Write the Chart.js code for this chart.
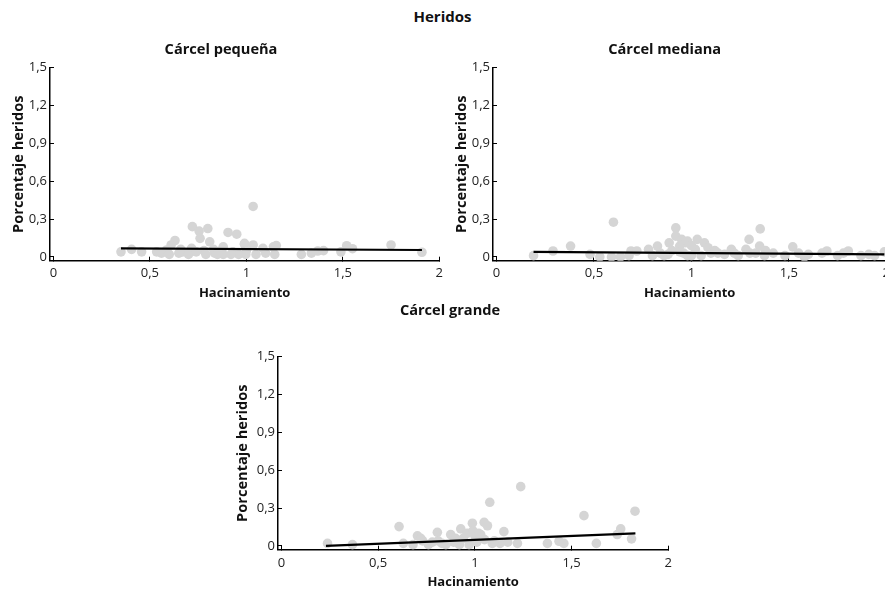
<!DOCTYPE html>
<html>
<head>
<meta charset="utf-8">
<script src="https://cdn.jsdelivr.net/npm/chart.js@4"></script>
<style>
  body { margin: 0; width: 885px; height: 591px; overflow: hidden; background: #fff; position: relative; font-family: "Open Sans", sans-serif; }
  canvas { position: absolute; }
  #mainTitle { position: absolute; left: 0; width: 885px; top: 6px; text-align: center; font-weight: bold; font-size: 15px; color: #111; }
</style>
</head>
<body>
<div id="mainTitle">Heridos</div>
<canvas id="pequena" width="452" height="275" style="left:0px; top:28px;"></canvas>
<canvas id="mediana" width="457" height="275" style="left:443px; top:28px;"></canvas>
<canvas id="grande" width="454" height="302" style="left:228px; top:290px;"></canvas>
<script>
// ticks
var xTicks = [0, 0.5, 1, 1.5, 2];
var yTicks = [0, 0.3, 0.6, 0.9, 1.2, 1.5];

// Cárcel pequeña
var pequenaX = [0.35,0.405,0.457,0.535,0.56,0.587,0.60,0.63,0.61,0.67,0.716,0.72,0.755,0.76,0.80,0.81,0.78,0.79,0.836,0.88,0.905,0.88,0.93,0.95,0.96,0.99,1.035,0.99,1.035,0.997,1.05,1.086,1.14,1.155,1.147,1.285,1.337,1.37,1.40,1.49,1.52,1.55,1.75,1.91,0.65,0.70,0.74,0.83,0.87,0.92,1.0,1.1,0.66,0.85];
var pequenaY = [0.04,0.06,0.04,0.04,0.03,0.055,0.02,0.13,0.095,0.04,0.068,0.24,0.205,0.147,0.225,0.12,0.05,0.02,0.03,0.08,0.194,0.02,0.04,0.18,0.02,0.107,0.40,0.10,0.095,0.02,0.02,0.068,0.08,0.09,0.02,0.02,0.03,0.047,0.05,0.04,0.089,0.065,0.095,0.037,0.03,0.02,0.04,0.06,0.05,0.02,0.05,0.03,0.06,0.02];
var pequenaLineX = [0.35, 1.91];
var pequenaLineY = [0.068, 0.055];

// Cárcel mediana
var medianaX = [0.19,0.29,0.38,0.48,0.53,0.59,0.60,0.636,0.68,0.69,0.72,0.78,0.80,0.826,0.84,0.86,0.886,0.92,0.92,0.94,0.95,0.97,0.96,0.98,0.98,1.03,1.067,1.085,1.02,1.0,1.05,1.136,1.17,1.205,1.24,1.28,1.296,1.353,1.35,1.33,1.375,1.42,1.48,1.52,1.55,1.58,1.67,1.695,1.75,1.805,1.78,1.87,1.91,1.94,1.99,0.90,0.88,1.1,1.12,1.3,1.0,0.94,1.22,1.38,1.6];
var medianaY = [0.01,0.047,0.086,0.02,0.0,0.0,0.275,0.0,0.01,0.047,0.047,0.06,0.01,0.086,0.03,0.01,0.112,0.23,0.165,0.086,0.139,0.112,0.03,0.01,0.125,0.139,0.112,0.073,0.06,0.01,0.01,0.03,0.02,0.06,0.01,0.06,0.139,0.222,0.086,0.03,0.01,0.03,0.01,0.08,0.03,0.0,0.03,0.047,0.01,0.047,0.03,0.01,0.02,0.01,0.04,0.05,0.02,0.03,0.05,0.03,0.09,0.04,0.03,0.05,0.02];
var medianaLineX = [0.19, 1.99];
var medianaLineY = [0.04, 0.02];

// Cárcel grande
var grandeX = [0.238,0.367,0.608,0.63,0.68,0.703,0.73,0.76,0.806,0.81,0.85,0.875,0.89,0.927,0.94,0.987,0.97,1.0,1.048,1.065,1.077,1.03,1.01,1.09,1.15,1.13,1.17,1.22,1.237,1.375,1.435,1.46,1.564,1.628,1.736,1.754,1.81,1.828,0.72,0.78,0.83,0.9,0.92,0.96,1.05,1.1,0.99,1.02];
var grandeY = [0.02,0.01,0.153,0.02,0.01,0.08,0.04,0.01,0.108,0.04,0.01,0.09,0.03,0.135,0.06,0.18,0.01,0.08,0.187,0.16,0.346,0.09,0.03,0.02,0.113,0.02,0.03,0.02,0.47,0.02,0.037,0.02,0.24,0.02,0.09,0.135,0.056,0.275,0.06,0.03,0.02,0.06,0.01,0.1,0.05,0.04,0.12,0.1];
var grandeLineX = [0.23, 1.83];
var grandeLineY = [0.0, 0.10];

var fontFamily = '"Open Sans", sans-serif';
var pointColor = 'rgb(213,213,213)';

function toPoints(xs, ys) {
  return xs.map((x, i) => ({x: x, y: ys[i]}));
}

function commaLabel(v) {
  return String(v).replace('.', ',');
}

function makePanel(id, title, xs, ys, lineX, lineY, titlePad, padRight, tickPad, yTitlePad) {
  var ctx = document.getElementById(id);
  return new Chart(ctx, {
    type: 'scatter',
    data: {
      datasets: [{
        type: 'line',
        data: toPoints(lineX, lineY),
        borderColor: '#000',
        borderWidth: 2.2,
        pointRadius: 0,
        fill: false
      }, {
        data: toPoints(xs, ys),
        backgroundColor: pointColor,
        borderWidth: 0,
        pointRadius: 4.8
      }]
    },
    options: {
      responsive: false,
      animation: false,
      layout: { padding: { left: 0, right: padRight, top: 0, bottom: 0 } },
      plugins: {
        legend: { display: false },
        tooltip: { enabled: false },
        title: {
          display: true,
          text: title,
          color: '#111',
          font: { family: fontFamily, size: 14.6, weight: 'bold' },
          padding: titlePad
        }
      },
      scales: {
        x: {
          type: 'linear',
          min: -0.018,
          max: 2,
          afterBuildTicks: s => { s.ticks = xTicks.map(v => ({value: v})); },
          afterFit: s => { s.height = 42.3; },
          ticks: { callback: v => commaLabel(v), color: '#222', font: { family: fontFamily, size: 13 }, padding: tickPad, maxRotation: 0, autoSkip: false },
          grid: { drawOnChartArea: false, tickLength: -4, color: '#000', lineWidth: 1 },
          border: { display: true, color: '#000', width: 1.5 },
          title: { display: true, text: 'Hacinamiento', color: '#111', font: { family: fontFamily, size: 13, weight: 'bold' }, padding: { top: 0, bottom: 2 } }
        },
        y: {
          type: 'linear',
          min: -0.03,
          max: 1.5,
          afterBuildTicks: s => { s.ticks = yTicks.map(v => ({value: v})); },
          afterFit: s => { s.width = 50; },
          ticks: { callback: v => commaLabel(v), color: '#222', font: { family: fontFamily, size: 13 }, padding: 7, autoSkip: false },
          grid: { drawOnChartArea: false, tickLength: -4, color: '#000', lineWidth: 1 },
          border: { display: true, color: '#000', width: 1.5 },
          title: { display: true, text: 'Porcentaje heridos', color: '#111', font: { family: fontFamily, size: 14.6, weight: 'bold' }, padding: { top: yTitlePad, bottom: 0 } }
        }
      }
    }
  });
}

makePanel('pequena', 'Cárcel pequeña', pequenaX, pequenaY, pequenaLineX, pequenaLineY, { top: 12.6, bottom: 9.6 }, 10, 9, 10);
makePanel('mediana', 'Cárcel mediana', medianaX, medianaY, medianaLineX, medianaLineY, { top: 12.6, bottom: 9.6 }, 13.7, 9, 10);
makePanel('grande', 'Cárcel grande', grandeX, grandeY, grandeLineX, grandeLineY, { top: 11.6, bottom: 37.6 }, 10, 10, 6);
</script>
</body>
</html>
